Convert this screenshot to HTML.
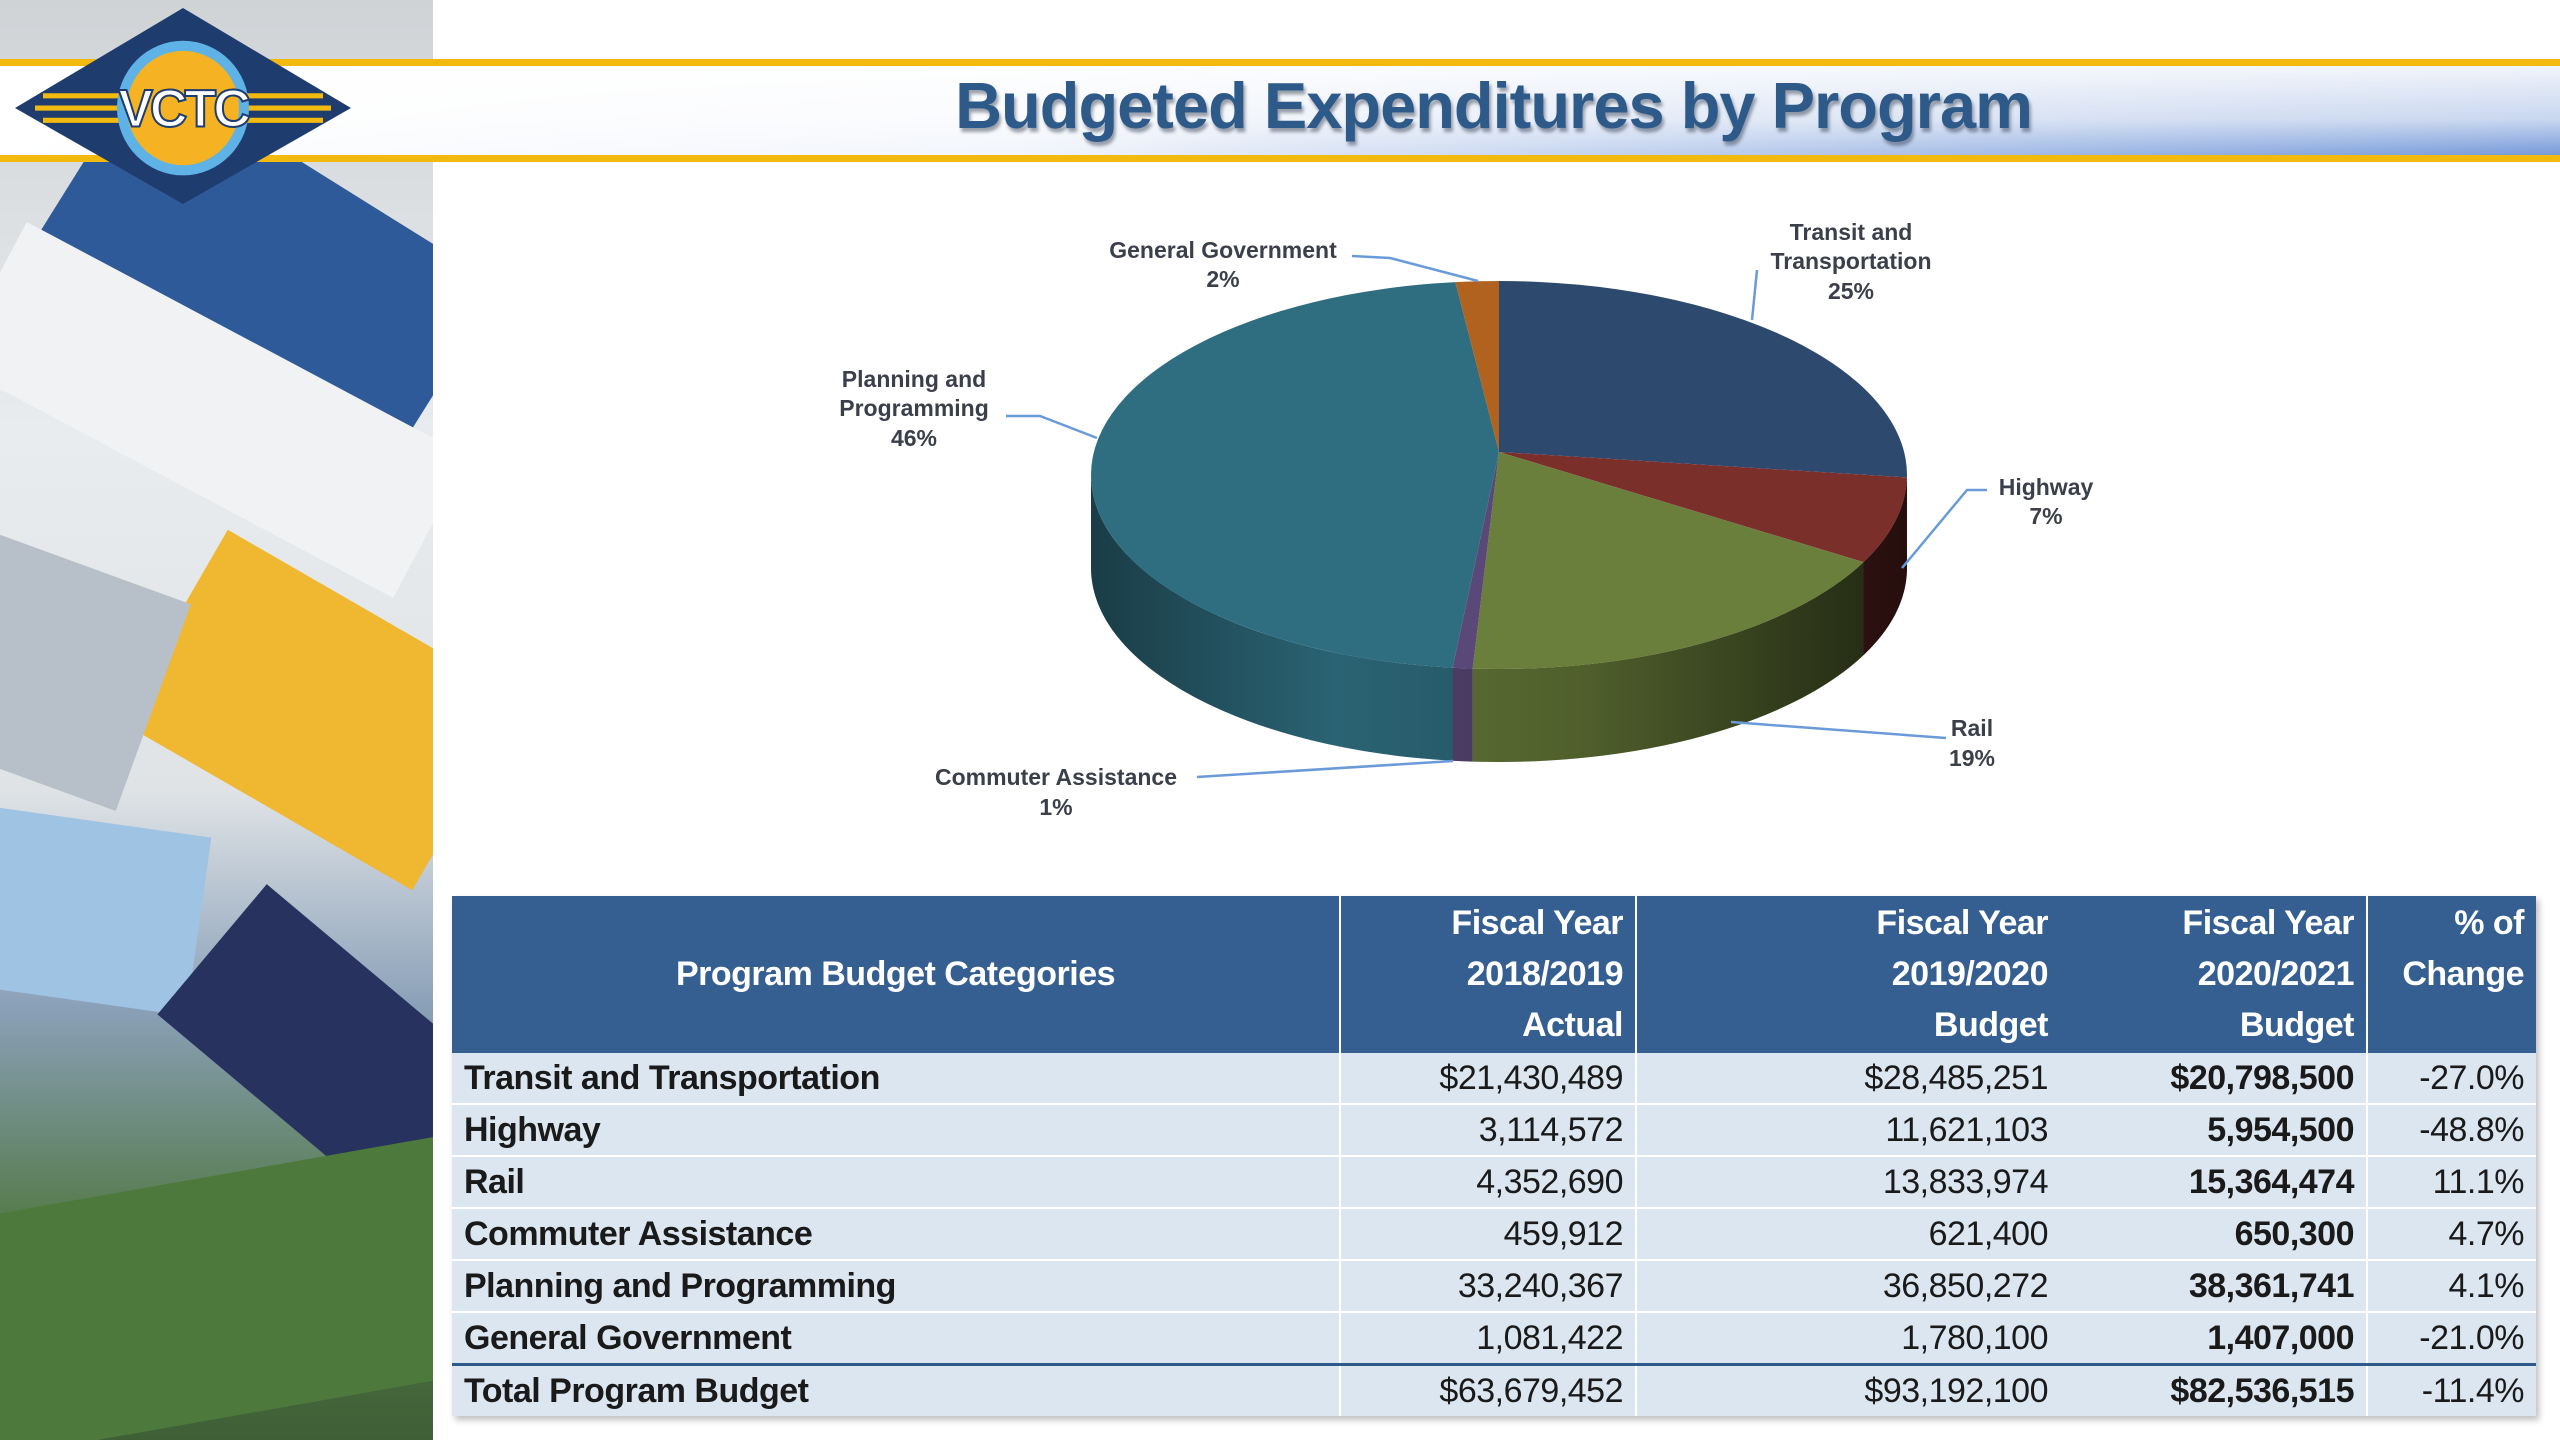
<!DOCTYPE html>
<html><head><meta charset="utf-8"><style>
html,body{margin:0;padding:0;overflow:hidden;width:2560px;height:1440px}
body{position:relative;background:#fff;font-family:"Liberation Sans",sans-serif}
#photo{position:absolute;left:0;top:0;width:433px;height:1440px;overflow:hidden;background:linear-gradient(180deg,#cfd3d6 0%,#e9ecee 30%,#dfe3e6 55%,#8aa0b8 70%,#557a4a 85%,#3f5f36 100%)}
.blk{position:absolute}
#band{position:absolute;left:0;top:62px;width:2560px;height:96px;background:linear-gradient(90deg,rgba(255,255,255,1) 0%,rgba(255,255,255,0.9) 40%,rgba(255,255,255,0) 100%),linear-gradient(180deg,#f4f7fc 0%,#c8d6ef 60%,#6f95d8 100%)}
.yl{position:absolute;left:0;width:2560px;height:7px;background:#f2b90f}
#title{position:absolute;left:0;width:2560px;top:68px;text-align:center;padding-left:427px;box-sizing:border-box;font-weight:bold;font-size:65px;color:#2e5a8a;text-shadow:2px 4px 3px rgba(40,50,70,.45);letter-spacing:-1px}
#logo{position:absolute;left:13px;top:6px}
table{position:absolute;left:452px;top:896px;width:2084px;border-collapse:collapse;font-size:34px;letter-spacing:-0.5px;color:#1a1a1a;box-shadow:3px 4px 6px rgba(0,0,0,.25)}
th{background:#365f91;color:#fff;font-weight:bold;line-height:51px;padding:2px 12px;text-align:right;vertical-align:middle}
th.l{text-align:center}
td{background:#dce6f1;height:50px;padding:0 12px;text-align:right;border-bottom:2px solid #fff;font-weight:normal}
td.l{text-align:left;font-weight:bold}
td.b{font-weight:bold}
.c1{border-right:2px solid #fff}
tr.tot td{border-top:3px solid #2e5a8a;border-bottom:none}
</style></head><body>
<div id="photo">
 <div class="blk" style="left:60px;top:160px;width:420px;height:200px;background:#2f5a9a;transform:rotate(32deg)"></div>
 <div class="blk" style="left:-40px;top:330px;width:500px;height:160px;background:#f0f2f4;transform:rotate(28deg)"></div>
 <div class="blk" style="left:150px;top:600px;width:340px;height:220px;background:#f0b730;transform:rotate(30deg)"></div>
 <div class="blk" style="left:-60px;top:560px;width:220px;height:220px;background:#b7c0c8;transform:rotate(20deg)"></div>
 <div class="blk" style="left:-40px;top:820px;width:240px;height:180px;background:#9fc3e3;transform:rotate(8deg)"></div>
 <div class="blk" style="left:170px;top:980px;width:360px;height:170px;background:#27335e;transform:rotate(40deg)"></div>
 <div class="blk" style="left:-80px;top:1180px;width:560px;height:240px;background:#4d7a3c;transform:rotate(-10deg)"></div>
</div>
<div id="band"></div>
<div class="yl" style="top:59px"></div>
<div class="yl" style="top:155px"></div>
<div id="title">Budgeted Expenditures by Program</div>
<svg id="logo" width="340" height="200" viewBox="0 0 340 196" preserveAspectRatio="none">
 <polygon points="170,2 338,100 170,194 2,100" fill="#1f3c6e"/>
 <g stroke="#f2b90f" stroke-width="5"><line x1="30" y1="88" x2="310" y2="88"/><line x1="22" y1="100" x2="318" y2="100"/><line x1="30" y1="112" x2="310" y2="112"/></g>
 <circle cx="170" cy="100" r="66" fill="#5fb2e6"/><circle cx="170" cy="100" r="56" fill="#f5b323"/>
 <text x="170" y="118" text-anchor="middle" font-size="52" font-weight="bold" fill="#fff" stroke="#1f3c6e" stroke-width="2" font-family="Liberation Sans,sans-serif" letter-spacing="-3">VCTC</text>
</svg>
<svg id="pie" width="2560" height="1440" style="position:absolute;left:0;top:0">
 <defs><linearGradient id="shade" x1="0" x2="1" y1="0" y2="0">
  <stop offset="0" stop-color="#000" stop-opacity="0.45"/><stop offset="0.3" stop-color="#000" stop-opacity="0.1"/><stop offset="0.6" stop-color="#000" stop-opacity="0.25"/><stop offset="1" stop-color="#000" stop-opacity="0.7"/></linearGradient></defs>
 <g id="sides"></g><g id="tops"></g>
 <g fill="none" stroke="#6a9bd8" stroke-width="2.5">
  <polyline points="1352,256 1390,258 1478,281"/>
  <polyline points="1757,270 1752,320"/>
  <polyline points="1006,416 1040,416 1097,438"/>
  <polyline points="1987,490 1967,490 1902,568"/>
  <polyline points="1946,738 1731,722"/>
  <polyline points="1197,777 1453,761"/>
 </g>
 <g font-family="Liberation Sans,sans-serif" font-weight="bold" font-size="23" fill="#3a3f4a" text-anchor="middle">
  <text><tspan x="1223" y="258">General Government</tspan><tspan x="1223" y="287">2%</tspan></text>
  <text><tspan x="1851" y="240">Transit and</tspan><tspan x="1851" y="269">Transportation</tspan><tspan x="1851" y="299">25%</tspan></text>
  <text><tspan x="914" y="387">Planning and</tspan><tspan x="914" y="416">Programming</tspan><tspan x="914" y="446">46%</tspan></text>
  <text><tspan x="2046" y="495">Highway</tspan><tspan x="2046" y="524">7%</tspan></text>
  <text><tspan x="1972" y="736">Rail</tspan><tspan x="1972" y="766">19%</tspan></text>
  <text><tspan x="1056" y="785">Commuter Assistance</tspan><tspan x="1056" y="815">1%</tspan></text>
 </g>
</svg>
<table>
<colgroup><col style="width:888px"><col style="width:296px"><col style="width:424px"><col style="width:307px"><col style="width:169px"></colgroup>
<tr><th class="l c1">Program Budget Categories</th><th class="c1">Fiscal Year<br>2018/2019<br>Actual</th><th>Fiscal Year<br>2019/2020<br>Budget</th><th class="c1">Fiscal Year<br>2020/2021<br>Budget</th><th>% of<br>Change<br>&nbsp;</th></tr>
<tr><td class="l c1">Transit and Transportation</td><td class="c1">$21,430,489</td><td>$28,485,251</td><td class="b c1">$20,798,500</td><td>-27.0%</td></tr>
<tr><td class="l c1">Highway</td><td class="c1">3,114,572</td><td>11,621,103</td><td class="b c1">5,954,500</td><td>-48.8%</td></tr>
<tr><td class="l c1">Rail</td><td class="c1">4,352,690</td><td>13,833,974</td><td class="b c1">15,364,474</td><td>11.1%</td></tr>
<tr><td class="l c1">Commuter Assistance</td><td class="c1">459,912</td><td>621,400</td><td class="b c1">650,300</td><td>4.7%</td></tr>
<tr><td class="l c1">Planning and Programming</td><td class="c1">33,240,367</td><td>36,850,272</td><td class="b c1">38,361,741</td><td>4.1%</td></tr>
<tr><td class="l c1">General Government</td><td class="c1">1,081,422</td><td>1,780,100</td><td class="b c1">1,407,000</td><td>-21.0%</td></tr>
<tr class="tot"><td class="l c1">Total Program Budget</td><td class="c1">$63,679,452</td><td>$93,192,100</td><td class="b c1">$82,536,515</td><td>-11.4%</td></tr>
</table>
<script>
const categories = ["Transit and Transportation","Highway","Rail","Commuter Assistance","Planning and Programming","General Government"];
const values = [20798500, 5954500, 15364474, 650300, 38361741, 1407000];
const topColors = ["#2d4a6e","#7a2f2a","#6a7f3b","#5a4878","#2f6e80","#b0621e"];
const keys = ["transit","highway","rail","commuter","planning","general"];
const cx=1499, cy=475, rx=408, ry=194, depth=93, vy=452;
const ns="http://www.w3.org/2000/svg";
const total=values.reduce((a,b)=>a+b,0);
function pt(deg,dy){const r=deg*Math.PI/180;return [cx+rx*Math.sin(r), cy-ry*Math.cos(r)+(dy||0)];}
const sides=document.getElementById('sides'), tops=document.getElementById('tops');
let acc=0;
values.forEach((v,i)=>{
  const a=acc/total*360, b=(acc+v)/total*360; acc+=v;
  const sa=Math.max(a,90), sb=Math.min(b,270);
  if(sb>sa){
    const p1=pt(sa),p2=pt(sb),p3=pt(sb,depth),p4=pt(sa,depth);
    const d=`M${p1} A${rx} ${ry} 0 0 1 ${p2} L${p3} A${rx} ${ry} 0 0 0 ${p4} Z`;
    const s=document.createElementNS(ns,'path');
    s.setAttribute('d',d);s.setAttribute('fill',topColors[i]);
    
    
    sides.appendChild(s);
  }
  const q1=pt(a),q2=pt(b);
  const t=document.createElementNS(ns,'path');
  t.setAttribute('d',`M${cx} ${vy} L${q1} A${rx} ${ry} 0 ${(b-a)>180?1:0} 1 ${q2} Z`);
  t.setAttribute('fill',topColors[i]);
  
  
  tops.appendChild(t);
});
const sh=document.createElementNS(ns,'path');
const l=pt(270),r=pt(90),lb=pt(270,depth),rb=pt(90,depth);
sh.setAttribute('d',`M${l} A${rx} ${ry} 0 0 0 ${r} L${rb} A${rx} ${ry} 0 0 1 ${lb} Z`);
sh.setAttribute('fill','url(#shade)');


sides.appendChild(sh);
</script>
</body></html>
